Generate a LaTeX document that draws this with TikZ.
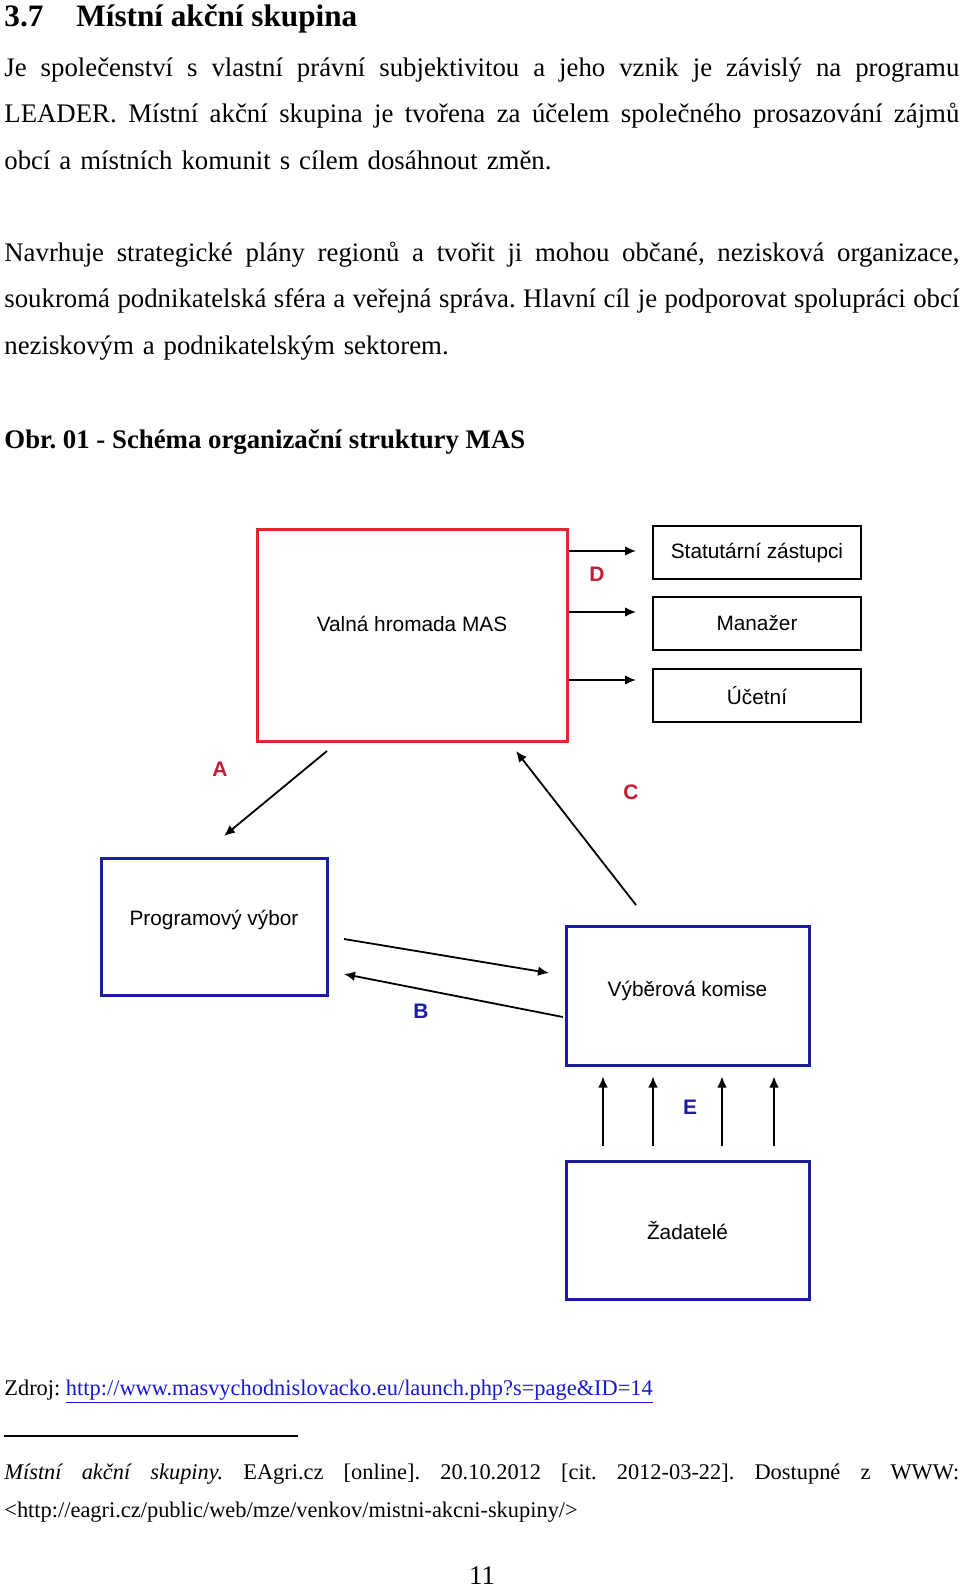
\documentclass[tikz,border=0pt]{standalone}
\usepackage{fontspec}
\setmainfont{Liberation Serif}
\setsansfont{Liberation Sans}
\usetikzlibrary{positioning, arrows.meta}
\frenchspacing

\definecolor{masred}{RGB}{226,38,48}
\definecolor{labred}{RGB}{196,28,52}
\definecolor{navy}{RGB}{28,28,158}
\definecolor{linkblue}{RGB}{24,24,214}

\newcommand{\jline}[1]{\makebox[477.5pt][s]{\spaceskip=\fontdimen2\font plus 1fil\xspaceskip=\spaceskip #1}}

\begin{document}
\begin{tikzpicture}[x=0.5pt, y=-0.5pt,
    txt/.style={anchor=base west, inner sep=0pt, text width=477.5pt, font=\fontsize{13.4}{23.3}\selectfont},
    box/.style={draw, line width=1.5pt, inner sep=0pt, font=\sffamily\fontsize{10.4}{12}\selectfont},
    redbox/.style={box, draw=masred},
    bluebox/.style={box, draw=navy},
    smallbox/.style={box, draw=black, line width=0.9pt, minimum width=104pt, minimum height=26.5pt},
    lab/.style={inner sep=0pt, font=\sffamily\bfseries\fontsize{10.5}{12}\selectfont},
    arr/.style={-{Latex[length=5.5pt,width=4.8pt]}, line width=0.9pt}]
    \fill[white] (0,0) rectangle (960,1587);
    \useasboundingbox (0,0) rectangle (960,1587);

    % text of the page
    \node[anchor=base west, inner sep=0pt, font=\bfseries\fontsize{15.6}{18}\selectfont] (head) at (4,26) {3.7\hspace{16.5pt}Místní akční skupina};
    \node[txt] (par1) at (4,76) {\jline{Je společenství s vlastní právní subjektivitou a jeho vznik je závislý na programu}\\
        \jline{LEADER. Místní akční skupina je tvořena za účelem společného prosazování zájmů}\\
        obcí a místních komunit s cílem dosáhnout změn.};
    \node[txt] (par2) at (4,261) {\jline{Navrhuje strategické plány regionů a tvořit ji mohou občané, nezisková organizace,}\\
        \jline{soukromá podnikatelská sféra a veřejná správa. Hlavní cíl je podporovat spolupráci obcí}\\
        neziskovým a podnikatelským sektorem.};
    \node[anchor=base west, inner sep=0pt, font=\bfseries\fontsize{13.4}{16}\selectfont] (obr) at (4,448) {Obr. 01 - Schéma organizační struktury MAS};

    % schema
    \node[redbox, minimum width=155pt, minimum height=106pt, text depth=11pt] (mas) at (412,635) {Valná hromada MAS};
    \node[smallbox] (stat) at (757,552.5) {Statutární zástupci};
    \node[smallbox, below=8pt of stat] (man) {Manažer};
    \node[smallbox, below=8.5pt of man] (uct) {Účetní};
    \node[bluebox, minimum width=113pt, minimum height=68.5pt, text depth=9pt] (prog) at (214,926.5) {Programový výbor};
    \node[bluebox, minimum width=121.5pt, minimum height=69.5pt, text depth=7pt] (vyb) at (687.5,995.5) {Výběrová komise};
    \node[bluebox, minimum width=121.5pt, minimum height=69pt, below=46.5pt of vyb] (zad) {Žadatelé};

    \node[lab, text=labred] (lA) at (220,769) {A};
    \node[lab, text=navy] (lB) at (421,1011) {B};
    \node[lab, text=labred] (lC) at (631,792) {C};
    \node[lab, text=labred] (lD) at (597,574) {D};
    \node[lab, text=navy] (lE) at (690,1107) {E};

    \coordinate (d1) at (636,551);
    \coordinate (d2) at (636,612);
    \coordinate (d3) at (636,680);
    \foreach \d in {d1,d2,d3}
        \draw[arr] (mas.east |- \d) -- (\d);

    \coordinate (a1) at (327,751);
    \coordinate (a2) at (224,836);
    \coordinate (c1) at (636,905);
    \coordinate (c2) at (516,751);
    \coordinate (b1) at (344,939);
    \coordinate (b2) at (549,973);
    \coordinate (b3) at (563,1017);
    \coordinate (b4) at (344,974);
    \draw[arr] (a1) -- (a2);
    \draw[arr] (c1) -- (c2);
    \draw[arr] (b1) -- (b2);
    \draw[arr] (b3) -- (b4);

    \foreach \x in {603,653,722,774}
        \draw[arr, shorten <=7pt, shorten >=5pt] (zad.north -| \x,0) -- (vyb.south -| \x,0);

    % source and footnote
    \node[anchor=base west, inner sep=0pt, font=\fontsize{11.2}{14}\selectfont] (zdroj) at (4,1395) {Zdroj: \textcolor{linkblue}{\underline{http://www.masvychodnislovacko.eu/launch.php?s=page\&ID=14}}};
    \draw[line width=0.7pt] (4,1436) -- (298,1436);
    \node[anchor=base west, inner sep=0pt, text width=477.5pt, font=\fontsize{11.2}{19}\selectfont] (foot) at (4,1479)
        {\jline{\textit{Místní akční skupiny.} EAgri.cz [online]. 20.10.2012 [cit. 2012-03-22]. Dostupné z WWW:}\\
        <http://eagri.cz/public/web/mze/venkov/mistni-akcni-skupiny/>};
    \node[anchor=base, inner sep=0pt, font=\fontsize{13.4}{16}\selectfont] (pnum) at (482,1584) {11};
\end{tikzpicture}
\end{document}
